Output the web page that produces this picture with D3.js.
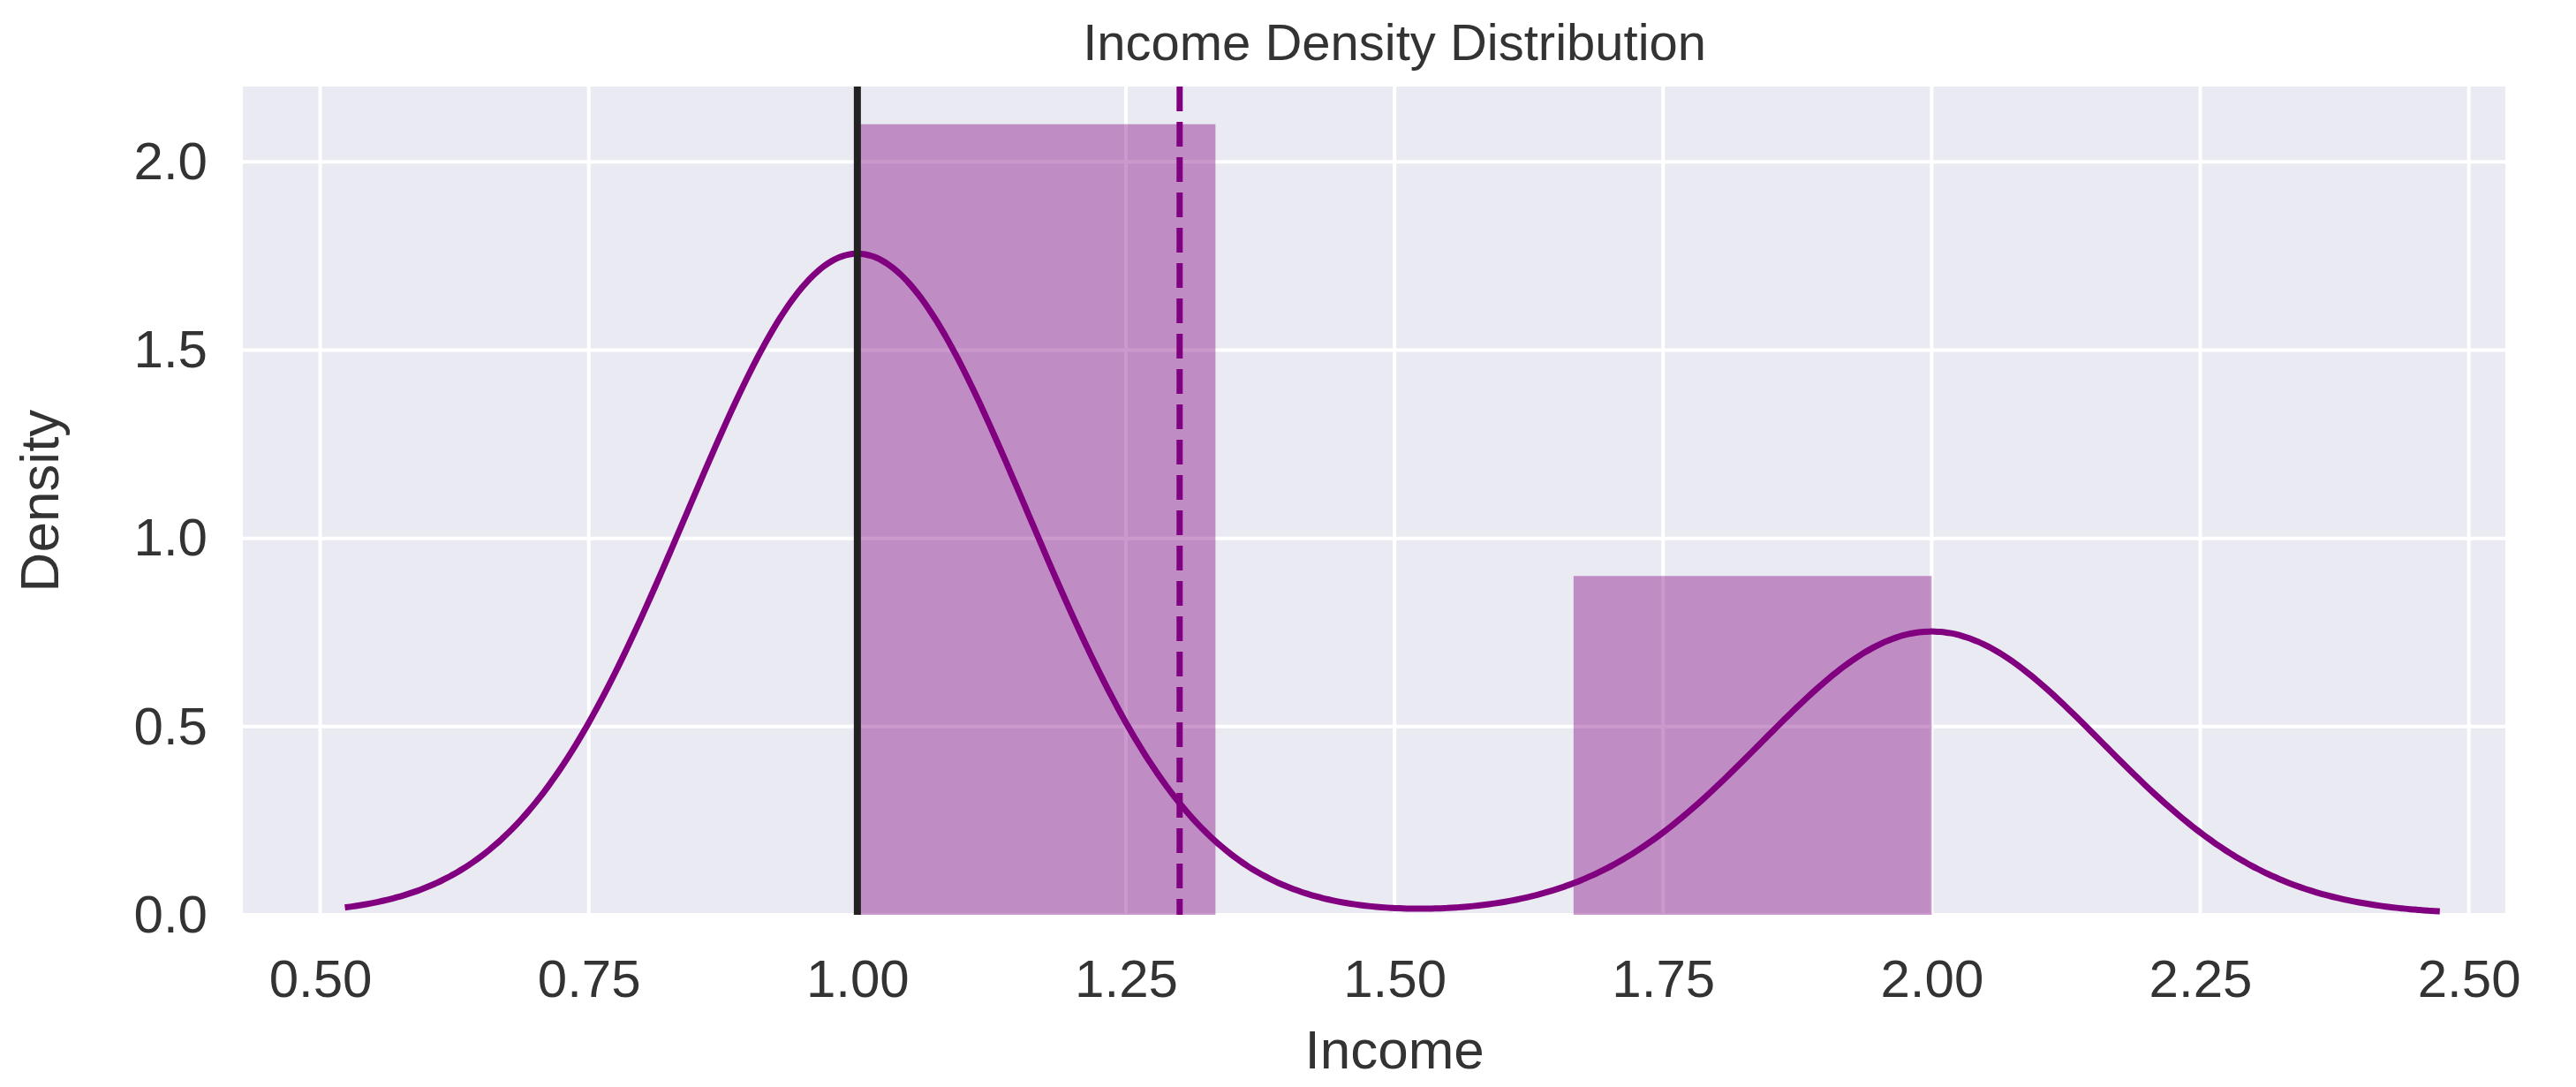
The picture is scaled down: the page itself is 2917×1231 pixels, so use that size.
<!DOCTYPE html>
<html><head><meta charset="utf-8">
<script src="https://cdn.jsdelivr.net/npm/d3@7"></script>
<style>body{margin:0;background:#fff}</style></head>
<body><svg id="c" width="2917" height="1231"></svg>
<script>
// sample incomes: mean 1.3, median 1.0
const incomes = [1, 1, 1, 1, 1, 1, 1, 2, 2, 2];
const binEdges = [1, 4 / 3, 5 / 3, 2];
const xTicks = [0.5, 0.75, 1.0, 1.25, 1.5, 1.75, 2.0, 2.25, 2.5];
const yTicks = [0, 0.5, 1.0, 1.5, 2.0];
const bandwidth = 0.159;

const M = { l: 275, r: 80, t: 98, b: 195 };
const W = 2917, H = 1231;
const svg = d3.select("#c");
const x = d3.scaleLinear().domain([0.428, 2.534]).range([M.l, W - M.r]);
const y = d3.scaleLinear().domain([0, 2.2]).range([H - M.b, M.t]);
const font = "Arial, 'Liberation Sans', sans-serif";

svg.append("rect").attr("x", M.l).attr("y", M.t)
  .attr("width", W - M.r - M.l).attr("height", H - M.b - M.t).attr("fill", "#eaeaf2");

// grid
svg.append("g").selectAll("line").data(xTicks).join("line")
  .attr("x1", d => x(d)).attr("x2", d => x(d)).attr("y1", M.t).attr("y2", H - M.b)
  .attr("stroke", "#fff").attr("stroke-width", 4);
svg.append("g").selectAll("line").data(yTicks).join("line")
  .attr("y1", d => y(d)).attr("y2", d => y(d)).attr("x1", M.l).attr("x2", W - M.r)
  .attr("stroke", "#fff").attr("stroke-width", 4);

// histogram
const bins = d3.bin().domain([1, 2]).thresholds(binEdges.slice(1, -1))(incomes);
const n = incomes.length;
svg.append("g").selectAll("rect").data(bins).join("rect")
  .attr("x", d => x(d.x0)).attr("width", d => x(d.x1) - x(d.x0))
  .attr("y", d => y(d.length / (n * (d.x1 - d.x0))))
  .attr("height", d => y(0) - y(d.length / (n * (d.x1 - d.x0))))
  .attr("fill", "#800080").attr("fill-opacity", 0.4);

// kde
const kern = u => Math.exp(-0.5 * u * u) / Math.sqrt(2 * Math.PI);
const grid = d3.range(0.523, 2.478, 0.005);
const kde = grid.map(g => [g, d3.mean(incomes, v => kern((g - v) / bandwidth)) / bandwidth]);
svg.append("path").datum(kde)
  .attr("d", d3.line().x(d => x(d[0])).y(d => y(d[1])).curve(d3.curveBasis))
  .attr("fill", "none").attr("stroke", "#800080").attr("stroke-width", 7);

// median / mean
svg.append("line").attr("x1", x(d3.median(incomes))).attr("x2", x(d3.median(incomes)))
  .attr("y1", M.t).attr("y2", H - M.b).attr("stroke", "#222").attr("stroke-width", 8);
svg.append("line").attr("x1", x(d3.mean(incomes))).attr("x2", x(d3.mean(incomes)))
  .attr("y1", M.t).attr("y2", H - M.b).attr("stroke", "#800080").attr("stroke-width", 7)
  .attr("stroke-dasharray", "28,12");

// axes
const xa = svg.append("g").attr("transform", `translate(0,${H - M.b})`)
  .call(d3.axisBottom(x).tickValues(xTicks).tickFormat(d3.format(".2f")).tickSize(0).tickPadding(50));
const ya = svg.append("g").attr("transform", `translate(${M.l},0)`)
  .call(d3.axisLeft(y).tickValues(yTicks).tickFormat(d3.format(".1f")).tickSize(0).tickPadding(40));
[xa, ya].forEach(a => {
  a.select(".domain").remove();
  a.selectAll("text").attr("font-size", 60).attr("font-family", font).attr("fill", "#333");
});

svg.append("text").attr("x", x(1.5)).attr("y", 68).attr("text-anchor", "middle")
  .attr("font-size", 58).attr("font-family", font).attr("fill", "#333").text("Income Density Distribution");
svg.append("text").attr("x", x(1.5)).attr("y", 1210).attr("text-anchor", "middle")
  .attr("font-size", 62).attr("font-family", font).attr("fill", "#333").text("Income");
svg.append("text").attr("transform", `translate(66,${y(1.1)}) rotate(-90)`).attr("text-anchor", "middle")
  .attr("font-size", 62).attr("font-family", font).attr("fill", "#333").text("Density");
</script></body></html>
